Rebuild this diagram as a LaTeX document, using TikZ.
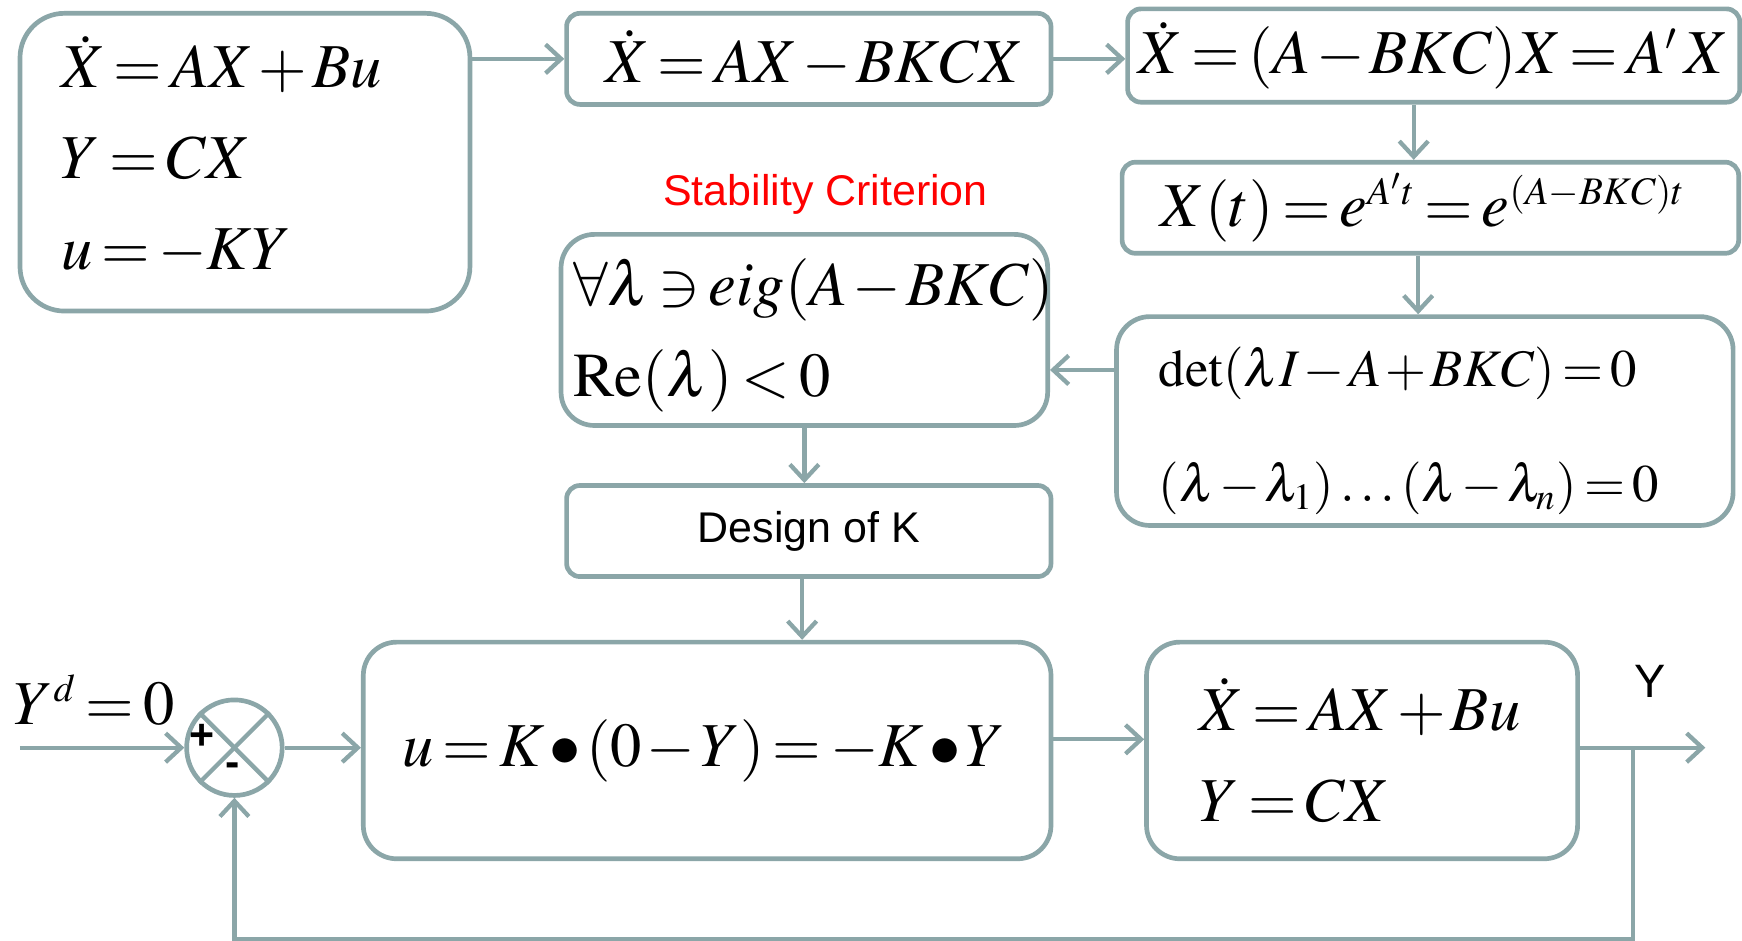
\documentclass[tikz,border=0pt]{standalone}
\usepackage{amsmath}
\usepackage{mathptmx}
\usepackage[no-math]{fontspec}
\newfontfamily\arialfont{Liberation Sans}
\usetikzlibrary{arrows.meta,positioning}
\definecolor{boxgray}{RGB}{139,166,168}
\definecolor{critred}{RGB}{255,0,0}
\relpenalty=10000
\binoppenalty=10000
\thickmuskip=2.5mu plus 1mu
\medmuskip=1.5mu plus 1mu
\DeclareMathSizes{16}{16}{10}{8}
\DeclareMathSizes{13.5}{13.5}{9.5}{7}
\newcommand{\eqfont}{\fontsize{16}{23.3}\selectfont}
\newcommand{\detfont}{\fontsize{13.5}{29.5}\selectfont}
\tikzset{
  eqbox/.style={rectangle,draw=boxgray,line width=1.2pt,rounded corners=#1,inner sep=0pt,fill=white,font=\eqfont,align=left},
  eqbox/.default=0.12cm,
  sumnode/.style={circle,draw=boxgray,line width=1.2pt,minimum size=0.86cm,inner sep=0pt},
  lbl/.style={inner sep=0pt,font=\arialfont\fontsize{11}{13}\selectfont},
  signlbl/.style={inner sep=0pt,font=\arialfont\bfseries\fontsize{11}{13}\selectfont},
  wire/.style={draw=boxgray,line width=1.1pt},
  flowarrow/.style={wire,-{Straight Barb[length=1.4mm,width=2.6mm]}}
}

\begin{document}
\begin{tikzpicture}
  \useasboundingbox (0,0) rectangle (15.68,-8.47);
  % top row
  \node[eqbox=0.4cm,minimum width=4.05cm,minimum height=2.68cm,text width=3.31cm] (sys1) at (2.205,-1.46)
    {$\dot{X} = AX + Bu$\\ $Y = CX$\\ $u = -KY$\rule[-0.17cm]{0pt}{0pt}};
  \node[eqbox,minimum width=4.36cm,minimum height=0.82cm,align=center] (closed) at (7.28,-0.53)
    {\hspace{0.1cm}$\dot{X} = AX - BKCX$};
  \node[eqbox,minimum width=5.51cm,minimum height=0.84cm,align=center] (aprime) at (12.905,-0.50)
    {$\dot{X} = (A - BKC)X = A'\,X$};
  \node[eqbox,minimum width=5.55cm,minimum height=0.82cm,text width=4.85cm] (sol) at (12.875,-1.87)
    {$X(t) = e^{A't} = e^{(A-BKC)t}$};
  \node[eqbox=0.3cm,minimum width=5.55cm,minimum height=1.88cm,text width=4.79cm,font=\detfont] (det) at (12.825,-3.79)
    {\rule{0pt}{0.53cm}$\det(\lambda I - A + BKC) = 0$\\ $(\lambda - \lambda_1) \ldots (\lambda - \lambda_n) = 0$};
  % stability check
  \node[lbl,text=critred] (crit) at (7.43,-1.75) {Stability Criterion};
  \node[eqbox=0.3cm,minimum width=4.38cm,minimum height=1.72cm,text width=4.16cm] (eig) at (7.24,-2.97)
    {\rule{0pt}{0.52cm}$\forall\lambda \ni eig(A - BKC)$\\ $\operatorname{Re}(\lambda) < 0$};
  \node[eqbox,minimum width=4.36cm,minimum height=0.82cm,font=\arialfont\fontsize{11}{13}\selectfont,align=center] (design) at (7.28,-4.78)
    {Design of K};
  % closed loop
  \node[sumnode] (sum) at (2.11,-6.73) {};
  \draw[wire] (sum.north west) -- (sum.south east);
  \draw[wire] (sum.north east) -- (sum.south west);
  \node[signlbl] (plus) at (1.82,-6.63) {+};
  \node[signlbl] (minus) at (2.09,-6.93) {-};
  \node[inner sep=0pt,font=\eqfont,anchor=west] (ref) at (0.12,-6.30) {$Y^{d} = 0$};
  \node[eqbox=0.3cm,minimum width=6.19cm,minimum height=1.95cm,text width=5.49cm] (ctrl) at (6.365,-6.755)
    {$u = K \bullet (0 - Y) = -K \bullet Y$};
  \node[eqbox=0.3cm,minimum width=3.88cm,minimum height=1.95cm,text width=2.92cm] (plant) at (12.26,-6.755)
    {$\dot{X} = AX + Bu$\\ $Y = CX$};
  \node[lbl,font=\arialfont\fontsize{12}{14}\selectfont] (ylbl) at (14.85,-6.13) {Y};
  \coordinate (in) at (0.18,-6.73);
  \coordinate (out) at (15.35,-6.73);
  \coordinate (tap) at (14.70,-6.73);
  \coordinate (fb) at (14.70,-8.45);
  % connectors
  \draw[flowarrow] (sys1.east |- closed.west) -- (closed.west);
  \draw[flowarrow] (closed.east) -- (closed.east -| aprime.west);
  \draw[flowarrow] ([xshift=-0.18cm]aprime.south) -- ([xshift=-0.18cm]aprime.south |- sol.north);
  \draw[flowarrow] ([xshift=-0.06cm]det.north |- sol.south) -- ([xshift=-0.06cm]det.north);
  \draw[flowarrow] ([yshift=0.46cm]det.west) -- ([yshift=0.46cm]det.west -| eig.east);
  \draw[flowarrow] (eig.south) -- (eig.south |- design.north);
  \draw[flowarrow] ([xshift=-0.06cm]design.south) -- ([xshift=-0.06cm]design.south |- ctrl.north);
  \draw[flowarrow] (in) -- (sum.west);
  \draw[flowarrow] (sum.east) -- (sum.east -| ctrl.west);
  \draw[flowarrow] ([yshift=0.1cm]ctrl.east) -- ([yshift=0.1cm]ctrl.east -| plant.west);
  \draw[flowarrow] (plant.east |- out) -- (out);
  \draw[flowarrow] (tap) -- (fb) -| (sum.south);
\end{tikzpicture}
\end{document}
